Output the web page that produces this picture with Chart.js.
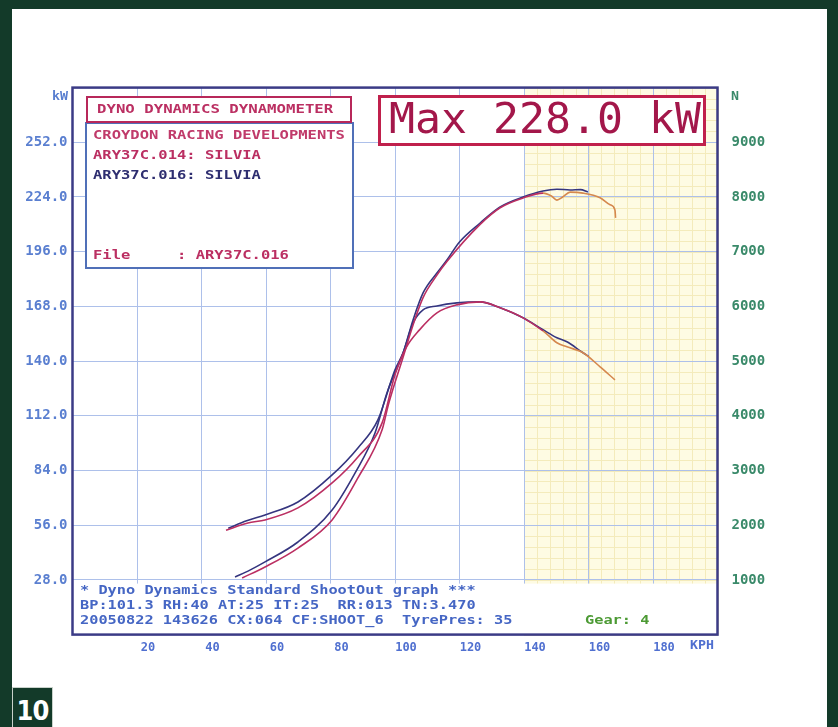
<!DOCTYPE html>
<html lang="en">
<head>
<meta charset="UTF-8">
<title>Dyno Graph</title>
<script src="https://cdn.jsdelivr.net/npm/chart.js"></script>
<style>
    body { margin: 0; background: #133a29; }
    #page { position: relative; width: 838px; height: 727px; overflow: hidden; }
    /* white sheet inside the dark green frame */
    #sheet { position: absolute; left: 12px; top: 9px; width: 815px; height: 718px; background: #fff; }
    #pageNo {
        position: absolute; left: 12px; top: 687px; width: 39px; height: 40px;
        background: #133a29; border: 1px solid #c9d2cb; border-bottom: none;
        color: #fff; font: bold 27px "DejaVu Sans Condensed", "DejaVu Sans", sans-serif;
        text-align: center; line-height: 46px; letter-spacing: -1px;
    }
    #dynoChart { position: absolute; left: 0; top: 0; }
</style>
</head>
<body>
<div id="page">
    <div id="sheet"></div>
    <div id="pageNo">10</div>
    <canvas id="dynoChart" width="838" height="727"></canvas>
</div>

<script>
    // Run ARY37C.016 (blue) - power, kW against road speed, km/h
    const power016Kph = [50.4, 55, 59.7, 69.9, 80.5, 87.6, 93.8, 97.5, 102.5, 105.6, 108.7, 113.0, 116.1, 120, 126.4, 132.6, 139.7, 145.9, 150.2, 154.3, 157.5, 159.8];
    const power016Kw  = [29.5, 33, 37.2, 47.4, 63.8, 82.7, 103.2, 123.7, 144.2, 161.1, 174.9, 185.1, 191.8, 201, 210.7, 218.9, 224.0, 227.1, 228.0, 227.6, 227.8, 226.6];

    // Run ARY37C.014 (red) - power
    const power014Kph = [52.6, 59.7, 69.9, 80.5, 88.5, 96.0, 98, 102.5, 105.6, 108.7, 113, 116.1, 126.4, 132.6, 139.7, 145.9, 148.5, 150.2, 152, 154.3, 158.3, 163.6, 166.7, 168.2, 168.4];
    const power014Kw  = [29.0, 34.6, 44.3, 58.7, 80.2, 104.8, 118, 142, 158.5, 172.5, 184, 191, 210, 218.5, 223.5, 226, 224.5, 222.4, 224, 226.5, 226, 223.6, 220, 217.4, 213.3];

    // tractive force, N
    const force016Kph = [48.3, 54, 59.7, 69.9, 80.5, 88.5, 94.7, 100.0, 102.5, 105.6, 108.7, 113.0, 119.2, 126.4, 132.6, 139.7, 145.9, 150.2, 153.3, 158.3, 160];
    const force016N   = [1944, 2080, 2188, 2425, 2919, 3413, 3925, 4840, 5150, 5698, 5936, 6009, 6065, 6083, 5974, 5791, 5572, 5426, 5353, 5152, 5090];

    const force014Kph = [47.6, 54.4, 59.7, 69.9, 80.5, 88.5, 96.0, 100, 103.5, 107.6, 113.0, 119.2, 126.4, 132.6, 139.7, 145.9, 150.2, 153.3, 158.3, 163.6, 168.2];
    const force014N   = [1909, 2041, 2096, 2316, 2773, 3248, 3870, 4750, 5250, 5571, 5882, 6028, 6083, 5974, 5791, 5554, 5335, 5262, 5152, 4895, 4657];

    // axes
    const speedMax = 200, speedStep = 20;
    const kwMax = 280, kwStep = 28;
    const forceMax = 10000, forceStep = 1000;
    const shadeFrom = 140; // yellow zone starts here (km/h)

    const headerLines = ['CROYDON RACING DEVELOPMENTS', 'ARY37C.014: SILVIA', 'ARY37C.016: SILVIA'];
    const fileLine = 'File     : ARY37C.016';
    const footerLines = [
        '* Dyno Dynamics Standard ShootOut graph ***',
        'BP:101.3 RH:40 AT:25 IT:25  RR:013 TN:3.470',
        '20050822 143626 CX:064 CF:SHOOT_6  TyrePres: 35'
    ];

    const MONO = '"DejaVu Sans Mono", "Liberation Mono", monospace';
    const RED = '#bb2f62', BLUE = '#35357f';

    const toPoints = (xs, ys) => xs.map((v, i) => ({ x: v, y: ys[i] }));

    // stretched monospaced text, like the dyno printout
    function wideText(ctx, text, x, y, size, charW, color, weight) {
        ctx.save();
        ctx.font = (weight || 'bold') + ' ' + size + 'px ' + MONO;
        const w = ctx.measureText('M').width;
        ctx.translate(x, y);
        ctx.scale(charW / w, 1);
        ctx.fillStyle = color;
        ctx.textBaseline = 'middle';
        ctx.fillText(text, 0, 0);
        ctx.restore();
    }

    // yellow high speed zone with its fine grid, under the main grid
    const zonePlugin = {
        id: 'zone',
        beforeDraw(chart) {
            const { ctx, chartArea: a, scales: { x, y } } = chart;
            const left = x.getPixelForValue(shadeFrom);
            ctx.save();
            ctx.fillStyle = '#fefbe3';
            ctx.fillRect(left, a.top, a.right - left, a.bottom - a.top);
            ctx.strokeStyle = '#f4ebbb';
            ctx.lineWidth = 1;
            ctx.beginPath();
            for (let v = shadeFrom; v <= speedMax; v += speedStep / 5) {
                const px = Math.round(x.getPixelForValue(v)) + 0.5;
                ctx.moveTo(px, a.top); ctx.lineTo(px, a.bottom);
            }
            for (let v = 0; v <= kwMax; v += kwStep / 5) {
                const py = Math.round(y.getPixelForValue(v)) + 0.5;
                ctx.moveTo(left, py); ctx.lineTo(a.right, py);
            }
            ctx.stroke();
            ctx.restore();
        }
    };

    // printout boxes, texts and frame
    const printoutPlugin = {
        id: 'printout',
        afterDatasetsDraw(chart) {
            const { ctx, chartArea: a } = chart;
            ctx.save();

            // footer box
            ctx.fillStyle = '#fff';
            ctx.fillRect(a.left, a.bottom - 51, a.right - a.left, 51);
            footerLines.forEach((t, i) => wideText(ctx, t, 80, 591 + i * 15, 12, 9.2, '#4566c4'));
            wideText(ctx, 'Gear: 4', 585, 621, 12, 9.2, '#4c9a34');

            // title box
            ctx.fillStyle = '#fff';
            ctx.fillRect(85, 96, 269, 173);
            ctx.lineWidth = 2;
            ctx.strokeStyle = '#5070b8';
            ctx.strokeRect(86, 123, 267, 145);
            ctx.strokeStyle = '#b8285a';
            ctx.strokeRect(87, 97, 264, 25);
            wideText(ctx, 'DYNO DYNAMICS DYNAMOMETER', 97, 110, 12, 9.45, RED);
            wideText(ctx, headerLines[0], 93, 136, 12, 9.33, '#c03a6a');
            wideText(ctx, headerLines[1], 93, 156, 12, 9.33, RED);
            wideText(ctx, headerLines[2], 93, 176, 12, 9.33, '#2e2e70');
            wideText(ctx, fileLine, 93, 256, 12, 9.33, RED);

            // max power box
            ctx.fillStyle = '#fff';
            ctx.fillRect(378, 95, 328, 51);
            ctx.lineWidth = 3;
            ctx.strokeStyle = '#c0204c';
            ctx.strokeRect(379.5, 96.5, 325, 48);
            const maxKw = Math.max(...power016Kw, ...power014Kw);
            wideText(ctx, 'Max ' + maxKw.toFixed(1) + ' kW', 389, 122, 43, 26, '#a3174a', 'normal');

            // plot frame
            ctx.lineWidth = 2.5;
            ctx.strokeStyle = '#3b3b86';
            ctx.strokeRect(a.left, a.top, a.right - a.left, a.bottom - a.top);

            // unit labels
            wideText(ctx, 'kW', 52, 97, 12, 8, '#5a7fd0');
            wideText(ctx, 'N', 731, 97, 12, 8, '#3a8a6a');
            wideText(ctx, 'KPH', 690, 646, 12, 8, '#5070d0');
            ctx.restore();
        }
    };

    const ctx = document.getElementById('dynoChart').getContext('2d');
    const dynoChart = new Chart(ctx, {
        type: 'line',
        data: {
            datasets: [
                {
                    label: 'ARY37C.014 power',
                    data: toPoints(power014Kph, power014Kw),
                    yAxisID: 'y',
                    borderColor: RED,
                    segment: { borderColor: c => c.p0.parsed.x >= shadeFrom ? '#d5884e' : undefined }
                },
                {
                    label: 'ARY37C.014 force',
                    data: toPoints(force014Kph, force014N),
                    yAxisID: 'y1',
                    borderColor: RED,
                    segment: { borderColor: c => c.p0.parsed.x >= shadeFrom ? '#d5884e' : undefined }
                },
                {
                    label: 'ARY37C.016 power',
                    data: toPoints(power016Kph, power016Kw),
                    yAxisID: 'y',
                    borderColor: BLUE
                },
                {
                    label: 'ARY37C.016 force',
                    data: toPoints(force016Kph, force016N),
                    yAxisID: 'y1',
                    borderColor: BLUE
                }
            ]
        },
        options: {
            responsive: false,
            animation: false,
            layout: { padding: { left: 12, top: 87.6, right: 0, bottom: 0 } },
            elements: {
                line: { borderWidth: 1.6, cubicInterpolationMode: 'monotone', fill: false },
                point: { radius: 0 }
            },
            plugins: { legend: { display: false }, tooltip: { enabled: false } },
            scales: {
                x: {
                    type: 'linear',
                    min: 0, max: speedMax,
                    afterFit: s => { s.height = 92.4; },
                    grid: { color: '#adc0ea', drawTicks: false },
                    border: { display: false },
                    ticks: {
                        stepSize: speedStep,
                        padding: 6,
                        labelOffset: 11,
                        color: '#5070d0',
                        font: { family: MONO, size: 12, weight: 'bold' },
                        callback: v => (v === 0 || v === speedMax) ? '' : String(v)
                    }
                },
                y: {
                    position: 'left',
                    min: 0, max: kwMax,
                    afterFit: s => { s.width = 60.5; },
                    grid: { color: '#adc0ea', drawTicks: false },
                    border: { display: false },
                    ticks: {
                        stepSize: kwStep,
                        padding: 5,
                        color: '#5a7fd0',
                        font: { family: MONO, size: 14, weight: 'bold' },
                        callback: v => (v === 0 || v === kwMax) ? '' : v.toFixed(1)
                    }
                },
                y1: {
                    position: 'right',
                    min: 0, max: forceMax,
                    afterFit: s => { s.width = 120.5; },
                    grid: { display: false, drawTicks: false },
                    border: { display: false },
                    ticks: {
                        stepSize: forceStep,
                        padding: 14,
                        color: '#3a8a6a',
                        font: { family: MONO, size: 14, weight: 'bold' },
                        callback: v => (v === 0 || v === forceMax) ? '' : String(v)
                    }
                }
            }
        },
        plugins: [zonePlugin, printoutPlugin]
    });
</script>
</body>
</html>
